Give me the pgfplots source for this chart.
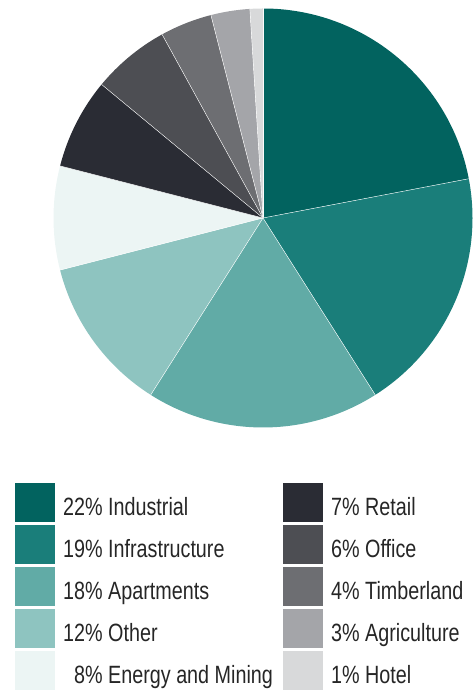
\documentclass[border=0pt]{standalone}
\usepackage{pgfplots}
\pgfplotsset{compat=1.18}
\usepackage{fontspec}
\setmainfont{Liberation Sans}[FakeStretch=0.79]
\definecolor{c1}{HTML}{02635F}
\definecolor{c2}{HTML}{1A7E7A}
\definecolor{c3}{HTML}{61ABA6}
\definecolor{c4}{HTML}{8EC4C0}
\definecolor{c5}{HTML}{ECF5F4}
\definecolor{c6}{HTML}{2A2C34}
\definecolor{c7}{HTML}{4D4E53}
\definecolor{c8}{HTML}{6D6E72}
\definecolor{c9}{HTML}{A4A5A9}
\definecolor{c10}{HTML}{D8D9DA}
\begin{document}
\begin{tikzpicture}
\path[use as bounding box] (0,0) rectangle (472pt,690pt);
\begin{axis}[hide axis, x=1pt, y=1pt, xmin=0, xmax=472, ymin=0, ymax=690,
  at={(0,0)}, anchor=origin, clip=false]
% pie: start (cumulative %) / share (%) / colour
\foreach \s/\v/\c in {0/22/c1, 22/19/c2, 41/18/c3, 59/12/c4, 71/8/c5, 79/7/c6, 86/6/c7, 92/4/c8, 96/3/c9, 99/1/c10}{
  \pgfmathsetmacro{\sa}{90-3.6*\s}
  \pgfmathsetmacro{\ea}{90-3.6*(\s+\v)}
  \edef\temp{\noexpand\fill[\c] (axis cs:263,472) -- ++(\sa:209.5pt) arc[start angle=\sa, end angle=\ea, radius=209.5pt] -- cycle;
    \noexpand\draw[white, line width=0.4pt] (axis cs:263,472) -- ++(\sa:209.5pt);}
  \temp
}
% legend: row / colour / x of swatch / x of text / label
\foreach \r/\c/\xs/\xt/\t in {
  0/c1/15/63/{22\% Industrial},
  1/c2/15/63/{19\% Infrastructure},
  2/c3/15/63/{18\% Apartments},
  3/c4/15/63/{12\% Other},
  4/c5/15/74/{8\% Energy and Mining},
  0/c6/283/331/{7\% Retail},
  1/c7/283/331/{6\% Office},
  2/c8/283/331/{4\% Timberland},
  3/c9/283/331/{3\% Agriculture},
  4/c10/283/331/{1\% Hotel}}{
  \pgfmathsetmacro{\yb}{690-522-42*\r}
  \pgfmathsetmacro{\yt}{690-483-42*\r}
  \pgfmathsetmacro{\ybl}{690-516-42*\r}
  \pgfmathsetmacro{\xe}{\xs+40}
  \edef\temp{\noexpand\fill[\c] (axis cs:\xs,\yb) rectangle (axis cs:\xe,\yt);
    \noexpand\node[anchor=base west, inner sep=0pt, text=black!85, font=\noexpand\fontsize{25}{30}\noexpand\selectfont] at (axis cs:\xt,\ybl) {\t};}
  \temp
}
\end{axis}
\end{tikzpicture}
\end{document}
